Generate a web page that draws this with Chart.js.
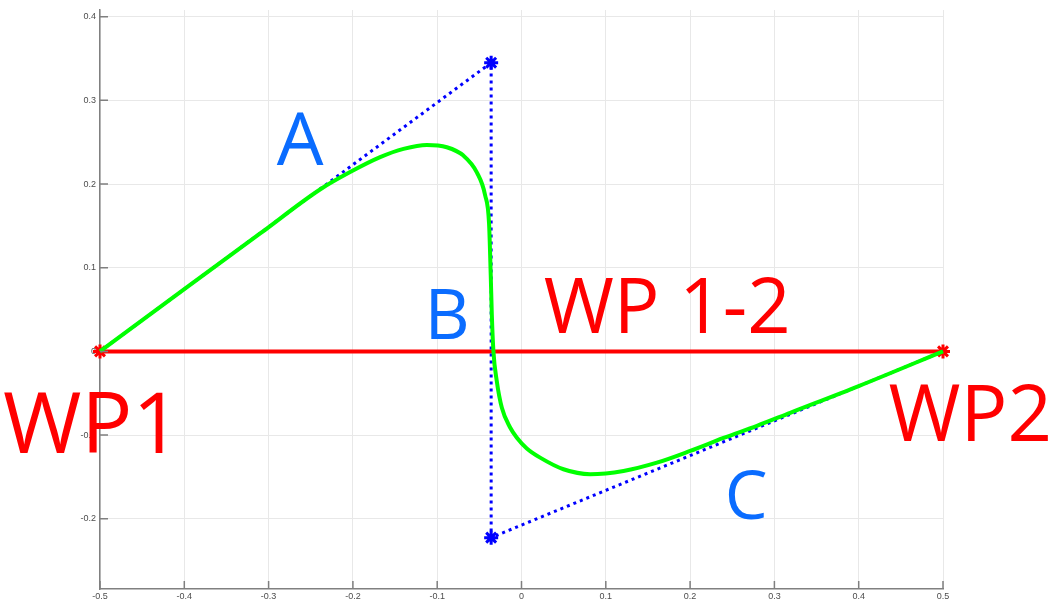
<!DOCTYPE html>
<html>
<head>
<meta charset="utf-8">
<script src="https://cdn.jsdelivr.net/npm/chart.js@4/dist/chart.umd.min.js"></script>
<style>
  html, body { margin: 0; padding: 0; background: #fff; }
  #wrap { width: 1064px; height: 607px; }
</style>
</head>
<body>
<div id="wrap"><canvas id="pathChart"></canvas></div>
<script>
// waypoints WP1 -> WP2
const wpX = [-0.5, 0.5];
const wpY = [0, 0];

// control polygon (A, B, C legs)
const ctrlX = [-0.5, -0.036, -0.036, 0.5];
const ctrlY = [0, 0.345, -0.2226, 0];

// smoothed path
const curveX = [-0.5, -0.4, -0.31, -0.239, -0.2033, -0.1677, -0.14, -0.1123, -0.0886, -0.0689,
  -0.053, -0.0431, -0.0385, -0.0365, -0.0352, -0.0333, -0.0293, -0.0233, -0.0135, -0.0055,
  0.0063, 0.0221, 0.0498, 0.0815, 0.121, 0.1606, 0.2001, 0.2397, 0.2793, 0.3188, 0.4, 0.5];
const curveY = [0, 0.0744, 0.1409, 0.1935, 0.2143, 0.2321, 0.242, 0.2468, 0.244, 0.234,
  0.214, 0.1865, 0.153, 0.0913, 0.0437, 0, -0.0357, -0.0675, -0.091, -0.1032,
  -0.116, -0.127, -0.1409, -0.1468, -0.1429, -0.133, -0.119, -0.1035, -0.089, -0.0734, -0.0415, 0];

const xTicks = [-0.5, -0.4, -0.3, -0.2, -0.1, 0, 0.1, 0.2, 0.3, 0.4, 0.5];
const yTicks = [-0.2, -0.1, 0, 0.1, 0.2, 0.3, 0.4];

// annotation texts, anchored in data units
const labelText = ['A', 'B', 'C', 'WP 1-2', 'WP1', 'WP2'];
const labelX = [-0.2627, -0.0882, 0.2666, 0.1728, -0.5095, 0.5324];
const labelY = [0.2226, 0.0143, -0.2, 0.0214, -0.1214, -0.107];
const labelSize = [74, 70, 68, 76, 85, 78];
const labelColor = ['#0a6cff', '#0a6cff', '#0a6cff', '#ff0000', '#ff0000', '#ff0000'];

const toPoints = (xs, ys) => xs.map((x, i) => ({ x: x, y: ys[i] }));
const fmt = v => String(parseFloat(v.toFixed(2)));

const innerTicks = {
    id: 'innerTicks',
    afterDraw(chart) {
        const { ctx, chartArea, scales } = chart;
        ctx.save();
        ctx.strokeStyle = '#7f7f7f';
        ctx.lineWidth = 1.5;
        ctx.beginPath();
        yTicks.forEach(v => {
            const py = scales.y.getPixelForValue(v);
            ctx.moveTo(chartArea.left, py);
            ctx.lineTo(chartArea.left + 8, py);
        });
        xTicks.forEach(v => {
            const px = scales.x.getPixelForValue(v);
            ctx.moveTo(px, chartArea.bottom);
            ctx.lineTo(px, chartArea.bottom - 8);
        });
        ctx.stroke();
        ctx.restore();
    }
};

const textLabels = {
    id: 'textLabels',
    afterDraw(chart) {
        const { ctx, scales } = chart;
        ctx.save();
        ctx.textAlign = 'center';
        ctx.textBaseline = 'alphabetic';
        labelText.forEach((t, i) => {
            ctx.font = `${labelSize[i]}px "Open Sans", sans-serif`;
            ctx.fillStyle = labelColor[i];
            ctx.fillText(t, scales.x.getPixelForValue(labelX[i]), scales.y.getPixelForValue(labelY[i]));
        });
        ctx.restore();
    }
};

new Chart(document.getElementById('pathChart'), {
    type: 'scatter',
    data: {
        datasets: [
            {
                label: 'path',
                data: toPoints(curveX, curveY),
                showLine: true,
                borderColor: '#00ff00',
                borderWidth: 4,
                cubicInterpolationMode: 'monotone',
                pointRadius: 0,
                clip: false,
                order: 1
            },
            {
                label: 'control',
                data: toPoints(ctrlX, ctrlY),
                showLine: true,
                borderColor: '#0000ff',
                borderWidth: 3,
                borderDash: [3, 4],
                pointStyle: 'star',
                pointRadius: [0, 7, 7, 0],
                pointBorderWidth: 3,
                pointBorderColor: '#0000ff',
                pointBackgroundColor: '#0000ff',
                order: 2
            },
            {
                label: 'WP 1-2',
                data: toPoints(wpX, wpY),
                showLine: true,
                borderColor: '#ff0000',
                borderWidth: 4,
                pointStyle: 'star',
                pointRadius: 7,
                pointBorderWidth: 3,
                pointBorderColor: '#ff0000',
                pointBackgroundColor: '#ff0000',
                clip: false,
                order: 3
            }
        ]
    },
    options: {
        responsive: true,
        maintainAspectRatio: false,
        animation: false,
        layout: { padding: { top: 2, right: 121, bottom: 0, left: 0 } },
        plugins: { legend: { display: false }, tooltip: { enabled: false } },
        scales: {
            x: {
                type: 'linear',
                min: -0.5, max: 0.5,
                afterFit: s => { s.height = 18; },
                afterBuildTicks: s => { s.ticks = xTicks.map(v => ({ value: v })); },
                ticks: { callback: fmt, color: '#4d4d4d', font: { family: 'Liberation Sans', size: 9 }, padding: 2, maxRotation: 0 },
                grid: { color: '#e8e8e8', lineWidth: 1, drawTicks: false },
                border: { color: '#808080', width: 1.5 }
            },
            y: {
                type: 'linear',
                min: -0.284, max: 0.408,
                afterFit: s => { s.width = 100; },
                afterBuildTicks: s => { s.ticks = yTicks.map(v => ({ value: v })); },
                ticks: { callback: fmt, color: '#4d4d4d', font: { family: 'Liberation Sans', size: 9 }, padding: 4 },
                grid: { color: '#e8e8e8', lineWidth: 1, drawTicks: false },
                border: { color: '#808080', width: 1.5 }
            }
        }
    },
    plugins: [innerTicks, textLabels]
});
</script>
</body>
</html>
